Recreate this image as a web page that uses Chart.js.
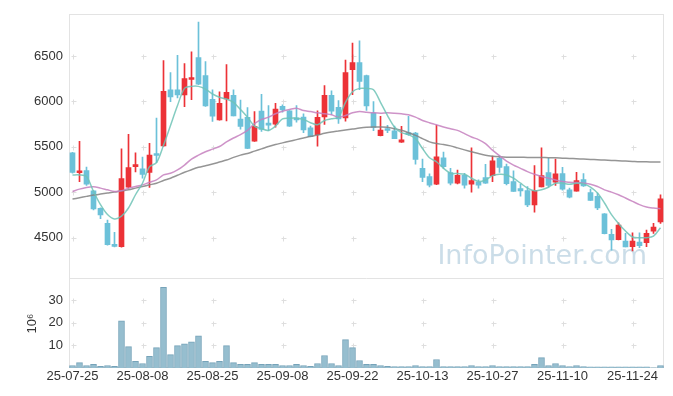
<!DOCTYPE html>
<html>
<head>
<meta charset="utf-8">
<script src="https://cdn.jsdelivr.net/npm/chart.js@4.4.1/dist/chart.umd.min.js"></script>
<style>
  body { margin: 0; background: #fff; }
  #wrap { width: 673px; height: 396px; }
</style>
</head>
<body>
<div id="wrap"><canvas id="stockChart" width="673" height="396"></canvas></div>
<script>
// Trading days
const dates = [
  "25-07-25", "25-07-28", "25-07-29", "25-07-30", "25-07-31", "25-08-01", "25-08-04", "25-08-05", "25-08-06", "25-08-07",
  "25-08-08", "25-08-11", "25-08-12", "25-08-13", "25-08-14", "25-08-18", "25-08-19", "25-08-20", "25-08-21", "25-08-22",
  "25-08-25", "25-08-26", "25-08-27", "25-08-28", "25-08-29", "25-09-01", "25-09-02", "25-09-03", "25-09-04", "25-09-05",
  "25-09-08", "25-09-09", "25-09-10", "25-09-11", "25-09-12", "25-09-15", "25-09-16", "25-09-17", "25-09-18", "25-09-19",
  "25-09-22", "25-09-23", "25-09-24", "25-09-25", "25-09-26", "25-09-29", "25-09-30", "25-10-01", "25-10-02", "25-10-10",
  "25-10-13", "25-10-14", "25-10-15", "25-10-16", "25-10-17", "25-10-20", "25-10-21", "25-10-22", "25-10-23", "25-10-24",
  "25-10-27", "25-10-28", "25-10-29", "25-10-30", "25-10-31", "25-11-03", "25-11-04", "25-11-05", "25-11-06", "25-11-07",
  "25-11-10", "25-11-11", "25-11-12", "25-11-13", "25-11-14", "25-11-17", "25-11-18", "25-11-19", "25-11-20", "25-11-21",
  "25-11-24", "25-11-25", "25-11-26", "25-11-27", "25-11-28"
];

// OHLC
const openPrices = [
  5435, 5215, 5238, 5017, 4824, 4657, 4420, 4402, 5057, 5282,
  5257, 5220, 5420, 5511, 6129, 6129, 6071, 6242, 6482, 6285,
  6024, 5798, 6027, 6067, 5806, 5824, 5562, 5893, 5751, 5751,
  5947, 5896, 5809, 5827, 5711, 5635, 5831, 6067, 5936, 5820,
  6351, 6427, 6285, 5871, 5624, 5690, 5678, 5551, 5645, 5653,
  5264, 5173, 5089, 5380, 5216, 5100, 5187, 5089, 5111, 5162,
  5184, 5373, 5282, 5118, 5042, 5020, 4860, 5060, 5216, 5111,
  5206, 5027, 5013, 5140, 4998, 4955, 4762, 4537, 4478, 4464,
  4402, 4453, 4446, 4573, 4675
];
const highPrices = [
  5440, 5562, 5278, 5020, 4830, 4693, 4558, 5478, 5638, 5435,
  5387, 5540, 5816, 6449, 6318, 6507, 6416, 6547, 6874, 6438,
  6129, 6107, 6405, 6129, 6016, 5933, 5889, 6078, 5955, 5980,
  5962, 5900, 5955, 5864, 5729, 5896, 6176, 6118, 6009, 6456,
  6642, 6667, 6290, 5998, 5835, 5736, 5729, 5726, 5835, 5660,
  5366, 5202, 5736, 5442, 5264, 5245, 5209, 5489, 5136, 5307,
  5398, 5402, 5311, 5235, 5089, 5064, 5293, 5489, 5373, 5366,
  5275, 5046, 5220, 5206, 5035, 4991, 4765, 4591, 4664, 4547,
  4555, 4555, 4584, 4657, 4973
];
const lowPrices = [
  5210, 5118, 5075, 4806, 4711, 4417, 4400, 4395, 5046, 5224,
  5155, 5053, 5326, 5505, 5998, 6038, 5944, 6020, 6185, 5945,
  5780, 5795, 5787, 5840, 5696, 5480, 5560, 5671, 5675, 5718,
  5882, 5725, 5773, 5656, 5610, 5507, 5747, 5856, 5758, 5784,
  6075, 6129, 5900, 5678, 5622, 5656, 5590, 5550, 5627, 5311,
  5118, 5060, 5085, 5264, 5082, 5093, 5046, 5002, 5046, 5098,
  5118, 5220, 5082, 5009, 4958, 4842, 4780, 5058, 5060, 5075,
  5024, 4937, 5013, 5064, 4911, 4809, 4542, 4362, 4475, 4398,
  4355, 4391, 4402, 4547, 4657
];
const closePrices = [
  5220, 5235, 5089, 4817, 4751, 4424, 4405, 5151, 5271, 5304,
  5198, 5409, 5405, 6111, 6049, 6071, 6253, 6264, 6191, 5951,
  5838, 5980, 6100, 5842, 5726, 5482, 5726, 5693, 5740, 5915,
  5907, 5729, 5798, 5686, 5613, 5824, 6067, 5893, 5809, 6318,
  6427, 6220, 5951, 5715, 5686, 5680, 5591, 5577, 5635, 5362,
  5165, 5078, 5391, 5282, 5100, 5187, 5078, 5129, 5078, 5100,
  5347, 5275, 5096, 5011, 5016, 4860, 5020, 5184, 5075, 5202,
  5035, 4947, 5129, 5071, 4911, 4827, 4544, 4475, 4638, 4398,
  4464, 4413, 4547, 4617, 4929
];

// Moving averages (5, 20, 60 days)
const ma5 = [
  5191, 5191, 5173, 5009, 4864, 4755, 4707, 4737, 4827, 4973,
  5100, 5282, 5326, 5518, 5736, 5955, 6144, 6166, 6166, 6136,
  6082, 6046, 6027, 5991, 5911, 5827, 5729, 5700, 5682, 5729,
  5809, 5816, 5816, 5802, 5766, 5744, 5791, 5809, 5827, 5991,
  6107, 6144, 6144, 6129, 5991, 5845, 5718, 5656, 5635, 5591,
  5482, 5380, 5336, 5264, 5209, 5206, 5198, 5155, 5118, 5136,
  5184, 5198, 5191, 5155, 5100, 5046, 5016, 5027, 5056, 5100,
  5100, 5089, 5100, 5093, 5056, 4991, 4882, 4755, 4657, 4573,
  4508, 4500, 4500, 4518, 4609
];
const ma20 = [
  5009, 5035, 5053, 5060, 5046, 5027, 5009, 5016, 5046, 5064,
  5082, 5111, 5136, 5191, 5209, 5246, 5300, 5366, 5409, 5446,
  5475, 5504, 5555, 5598, 5635, 5682, 5755, 5802, 5827, 5864,
  5893, 5911, 5926, 5900, 5889, 5875, 5864, 5853, 5827, 5845,
  5875, 5889, 5882, 5875, 5871, 5875, 5871, 5864, 5853, 5827,
  5791, 5766, 5744, 5718, 5700, 5682, 5646, 5609, 5580, 5536,
  5464, 5402, 5344, 5300, 5264, 5227, 5198, 5173, 5155, 5136,
  5118, 5111, 5107, 5100, 5089, 5064, 5027, 5002, 4973, 4937,
  4900, 4864, 4838, 4827, 4820
];
const ma60 = [
  4926, 4940, 4955, 4969, 4980, 4991, 5002, 5016, 5027, 5046,
  5064, 5082, 5100, 5129, 5155, 5187, 5220, 5249, 5275, 5293,
  5311, 5333, 5355, 5384, 5409, 5427, 5453, 5478, 5504, 5526,
  5544, 5562, 5580, 5598, 5616, 5631, 5649, 5664, 5675, 5686,
  5696, 5707, 5715, 5718, 5718, 5715, 5700, 5682, 5656, 5627,
  5591, 5555, 5536, 5526, 5511, 5489, 5467, 5446, 5427, 5409,
  5398, 5391, 5387, 5387, 5387, 5384, 5384, 5384, 5380, 5380,
  5376, 5373, 5369, 5366, 5362, 5358, 5355, 5351, 5347, 5344,
  5340, 5336, 5336, 5333, 5333
];

// Volume, millions of shares
const volumeM = [
  1.1, 2.4, 1.1, 1.6, 0.7, 1.1, 0.7, 20.8, 9.4, 2.9,
  2.0, 5.1, 9.0, 35.6, 5.9, 9.9, 10.7, 11.6, 14.2, 2.9,
  2.4, 2.9, 9.9, 2.4, 1.6, 1.6, 2.4, 1.6, 1.6, 1.6,
  1.1, 1.1, 1.6, 1.1, 0.7, 2.0, 5.5, 2.0, 1.1, 12.5,
  9.0, 3.3, 1.6, 1.6, 1.1, 0.7, 0.6, 0.6, 0.6, 1.1,
  0.6, 0.6, 3.75, 0.6, 0.6, 0.6, 0.6, 1.1, 0.6, 0.6,
  1.1, 0.6, 0.6, 0.6, 0.6, 0.6, 1.6, 4.6, 1.1, 2.0,
  1.1, 0.6, 1.1, 0.6, 0.5, 0.5, 0.5, 0.5, 0.5, 0.5,
  0.5, 0.5, 0.5, 0.1, 1.1
];

const priceTicks = [4500, 5000, 5500, 6000, 6500];
const volumeTicks = [10, 20, 30];

const UP = "#ec3237";
const DOWN = "#6cc1d9";
const candleColors = closePrices.map((c, i) => c >= openPrices[i] ? UP : DOWN);

Chart.defaults.font.family = "'Liberation Sans', Arial, sans-serif";
Chart.defaults.font.size = 13;
Chart.defaults.color = "#333";

// light "+" marks at grid crossings, plot frame, watermark
const panelDecor = {
  id: "panelDecor",
  beforeDatasetsDraw(chart) {
    const ctx = chart.ctx;
    const area = chart.chartArea;
    const x = chart.scales.x, y = chart.scales.y, yv = chart.scales.yVol;
    ctx.save();
    ctx.strokeStyle = "#e3e3e3";
    ctx.lineWidth = 1;
    ctx.strokeRect(Math.round(area.left) + 0.5, Math.round(area.top) + 0.5,
      Math.round(area.right - area.left) - 1, Math.round(area.bottom - area.top) - 1);
    ctx.beginPath();
    ctx.moveTo(area.left, Math.round(y.bottom) - 0.5);
    ctx.lineTo(area.right, Math.round(y.bottom) - 0.5);
    ctx.stroke();

    ctx.strokeStyle = "#dedede";
    const ys = priceTicks.map(v => y.getPixelForValue(v)).concat(volumeTicks.map(v => yv.getPixelForValue(v)));
    dates.forEach((d, i) => {
      if (i % 10 !== 0) return;
      const px = Math.round(x.getPixelForValue(i)) + 0.5;
      ys.forEach(py => {
        const qy = Math.round(py) + 0.5;
        ctx.beginPath();
        ctx.moveTo(px - 2, qy); ctx.lineTo(px + 3, qy);
        ctx.moveTo(px, qy - 2); ctx.lineTo(px, qy + 3);
        ctx.stroke();
      });
    });

    ctx.font = "27px 'DejaVu Sans'";
    ctx.fillStyle = "rgba(190,212,226,0.8)";
    ctx.textAlign = "right";
    ctx.textBaseline = "alphabetic";
    ctx.fillText("InfoPointer.com", area.right - 17, y.bottom - 15);
    ctx.restore();
  }
};

new Chart(document.getElementById("stockChart"), {
  type: "bar",
  data: {
    labels: dates,
    datasets: [
      {
        type: "line", label: "MA5", data: ma5, yAxisID: "y",
        borderColor: "rgba(110,195,182,0.85)", borderWidth: 1.5, pointRadius: 0, tension: 0.3
      },
      {
        type: "line", label: "MA20", data: ma20, yAxisID: "y",
        borderColor: "rgba(198,128,190,0.85)", borderWidth: 1.5, pointRadius: 0, tension: 0.3
      },
      {
        type: "line", label: "MA60", data: ma60, yAxisID: "y",
        borderColor: "rgba(130,130,130,0.85)", borderWidth: 1.5, pointRadius: 0, tension: 0.3
      },
      {
        label: "body", data: openPrices.map((o, i) => [o, closePrices[i]]), yAxisID: "y",
        backgroundColor: candleColors, barThickness: 5, minBarLength: 2, grouped: false, borderWidth: 0
      },
      {
        label: "wick", data: lowPrices.map((l, i) => [l, highPrices[i]]), yAxisID: "y",
        backgroundColor: candleColors, barThickness: 1, grouped: false, borderWidth: 0
      },
      {
        label: "volume", data: volumeM, yAxisID: "yVol",
        backgroundColor: "rgba(150,190,207,1)", borderColor: "rgba(118,163,185,1)",
        borderWidth: 1, barThickness: 6, grouped: false
      }
    ]
  },
  options: {
    responsive: false,
    animation: false,
    devicePixelRatio: 1,
    layout: { padding: { left: 25, right: 9, top: 10, bottom: 0 } },
    plugins: { legend: { display: false }, tooltip: { enabled: false } },
    scales: {
      x: {
        type: "category",
        grid: { display: false, drawTicks: false },
        border: { display: false },
        ticks: {
          autoSkip: false, maxRotation: 0, padding: 1,
          callback: (v, i) => i % 10 === 0 ? dates[i] : null
        },
        afterFit: s => { s.height = 28; }
      },
      yVol: {
        position: "left", stack: "panes", stackWeight: 90,
        min: 0, max: 39.3,
        grid: { display: false, drawTicks: false },
        border: { display: false },
        ticks: { padding: 6, callback: v => String(v) },
        afterBuildTicks: s => { s.ticks = volumeTicks.map(v => ({ value: v })); },
        title: { display: true, text: "10⁶", padding: 0, font: { size: 13 } },
        afterFit: s => { s.width = 44; }
      },
      y: {
        position: "left", stack: "panes", stackWeight: 268,
        min: 4046, max: 6965,
        grid: { display: false, drawTicks: false },
        border: { display: false },
        ticks: { padding: 6, callback: v => String(v) },
        afterBuildTicks: s => { s.ticks = priceTicks.map(v => ({ value: v })); },
        afterFit: s => { s.width = 44; }
      }
    }
  },
  plugins: [panelDecor]
});
</script>
</body>
</html>
